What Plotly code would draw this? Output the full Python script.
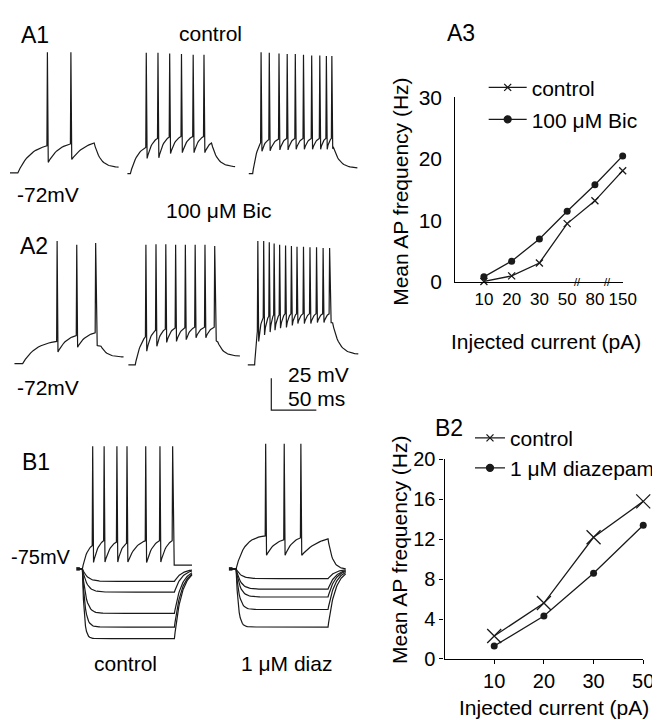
import numpy as np
import plotly.graph_objects as go

# ---------------- data ----------------
# A3: mean AP frequency vs injected current
currents_A3 = ["10", "20", "30", "50", "80", "150"]
freq_A3_control = [0.1, 1.0, 3.1, 9.5, 13.2, 18.1]
freq_A3_bic = [0.85, 3.4, 7.0, 11.5, 15.8, 20.5]
axis_breaks_A3 = [3.39, 4.45]          # "//" marks between 50-80 and 80-150

# B2: mean AP frequency vs injected current
currents_B2 = ["10", "20", "30", "50"]
freq_B2_control = [2.3, 5.6, 12.2, 15.8]
freq_B2_diazepam = [1.3, 4.3, 8.6, 13.4]

# Current-clamp traces (time in ms, membrane potential in mV)
# spiking traces: start, step on, step off, end, rest, spike times, pre-spike level,
# after-hyperpolarisation level, spike peak, level at step off, level at end, rise shape
A1_traces = [
    dict(t0=2.2, on=10.9, off=95.7, end=122.8, rest=-72,
         spikes=[43.5, 69.6], thr=[-50.8, -49.3], ahp=[-63.7, -61.4], peak=[22.5, 22.5],
         v_off=-48.5, v_end=-67.5, k=2.2),
    dict(t0=132.6, on=135.9, off=226.0, end=252.2, rest=-72.5,
         spikes=[153.3, 166.3, 179.3, 192.4, 205.4, 217.4],
         thr=[-52, -45, -44, -43.5, -43.5, -43.5],
         ahp=[-60.6, -60.1, -56.8, -56.1, -56.1, -56.1],
         peak=[22, 22, 21.5, 21, 20.5, 20.5], v_off=-48.5, v_end=-67, k=2.0),
    dict(t0=267.4, on=271.7, off=361.5, end=388.0, rest=-72.5,
         spikes=[280.8, 289.9, 300.7, 309.8, 318.8, 327.9, 337.0, 346.0, 353.3, 359.4],
         thr=[-48.5, -46, -45.5, -45, -45, -45, -45, -45, -45, -45],
         ahp=[-55, -54.6, -54, -54, -53.5, -53.5, -53.5, -53.5, -53.5, -53],
         peak=[22.5, 22, 21.5, 21, 21, 20.5, 20, 20, 19.5, 19.5],
         v_off=-52, v_end=-68, k=1.5),
]
A2_traces = [
    dict(t0=7.2, on=16.3, off=103.3, end=128.3, rest=-72,
         spikes=[54.3, 76.1, 97.1], thr=[-54.6, -50, -47.8], ahp=[-62.9, -59.1, -57.6],
         peak=[24, 21, 22.5], v_off=-58.4, v_end=-66.7, k=2.5),
    dict(t0=133.7, on=141.3, off=233.0, end=257.6, rest=-73,
         spikes=[152.9, 164.1, 175.0, 185.9, 196.7, 207.6, 218.5, 229.3],
         thr=[-51, -46, -45, -44, -44, -43.5, -43.5, -43.5],
         ahp=[-62.2, -58.4, -55.4, -54.6, -53.2, -51.7, -51.7, -53.2],
         peak=[21, 21.5, 21.5, 21, 21, 21, 21, 20], v_off=-55, v_end=-66, k=1.5),
    dict(t0=266.3, on=273.9, off=360.5, end=389.0, rest=-73,
         spikes=[277.2, 283.7, 289.9, 295.3, 301.4, 308.0, 314.5, 320.7, 327.9, 335.1, 342.4, 349.7, 356.9],
         thr=[-47, -36, -35, -34, -34, -33, -33, -33, -33, -33, -33, -33, -33],
         ahp=[-54.6, -49.5, -47.3, -45.8, -44.3, -43.6, -42.1, -40.6, -40.6, -40.6, -39.8, -39.8, -39.8],
         peak=[24, 24, 23, 22, 21, 20.5, 20, 19.5, 19.5, 19, 19, 18.5, 18.5],
         v_off=-40, v_end=-64.4, k=1.0),
]
B1_spiking = [
    dict(t0=78.3, on=82.6, off=184.8, end=204.3, rest=-75,
         spikes=[93.8, 106.5, 120.7, 131.9, 152.7, 168.5, 182.6],
         thr=[-56.8, -53, -54, -55, -53, -53, -53],
         ahp=[-70, -69.7, -69.7, -69.7, -70, -69.7, -72],
         peak=[21, 21, 21, 21, 21, 21, 21], v_off=-72, v_end=-72, k=2.0),
    dict(t0=247.8, on=253.3, off=355.4, end=375.0, rest=-75,
         spikes=[285.9, 306.5, 325.0], thr=[-49.2, -52.3, -50.8], ahp=[-64.4, -64.4, -64.4],
         peak=[23, 23, 23], v_off=-51.5, v_end=-75, k=3.5),
]
# hyperpolarising steps: steady-state levels (mV)
B1_ctrl_steps = dict(t0=78.3, on=82.6, off=184.8, end=204.3, rest=-75,
                     levels=[-84.8, -93.2, -109.8, -120.5, -129.5], tau=[5.5, 5, 4, 3, 2])
B1_diaz_steps = dict(t0=247.8, on=253.3, off=355.4, end=375.0, rest=-75,
                     levels=[-82.6, -90.9, -97.0, -106.8, -120.5], tau=[5.5, 5, 4.5, 3.5, 2.5])

# scale bar (A2): 25 mV, 50 ms
scale_t, scale_v = 292.4, -108.4
scale_mv, scale_ms = 25, 50

# ---------------- layout helpers ----------------
W, H = 660, 720
PX_PER_MS, PX_PER_MV = 0.92, 1.32
FONT = "Arial, Liberation Sans, sans-serif"
INK = "#1a1a1a"


def ydom(top, bottom):
    return [(H - bottom) / H, (H - top) / H]


def vrange(top, bottom, base_px, base_mv):
    return [base_mv - (bottom - base_px) / PX_PER_MV, base_mv + (base_px - top) / PX_PER_MV]


def seg(ta, va, tb, vb, k, n=14):
    f = np.linspace(0, 1, n)
    g = f if abs(k) < 1e-6 else (1 - np.exp(-k * f)) / (1 - np.exp(-k))
    return list(ta + (tb - ta) * f), list(va + (vb - va) * g)


def spiking(d):
    t, v = [d["t0"], d["on"]], [d["rest"], d["rest"]]
    s = d["spikes"]
    a, b = seg(d["on"], d["rest"], s[0] - 0.3, d["thr"][0], d["k"])
    t += a; v += b
    for i, ts in enumerate(s):
        t += [ts + 0.25, ts + 1.2]
        v += [d["peak"][i], d["ahp"][i]]
        if i + 1 < len(s):
            a, b = seg(ts + 1.2, d["ahp"][i], s[i + 1] - 0.3, d["thr"][i + 1], 2.0)
            t += a; v += b
    if d["off"] > s[-1] + 1.2:
        a, b = seg(s[-1] + 1.2, d["ahp"][-1], d["off"], d["v_off"], 1.5)
        t += a; v += b
    a, b = seg(d["off"], d["v_off"], d["end"], d["v_end"], 4.0, n=24)
    t += a; v += b
    return t, v


def steps(d):
    out = []
    for lev, tau in zip(d["levels"], d["tau"]):
        tt = np.linspace(d["on"], d["off"], 90)
        vv = d["rest"] + (lev - d["rest"]) * (1 - np.exp(-(tt - d["on"]) / tau))
        v_at_off = vv[-1]
        t2 = np.linspace(d["off"], d["end"], 30)
        v2 = d["rest"] + (v_at_off - d["rest"]) * np.exp(-(t2 - d["off"]) / 8.0)
        out.append(([d["t0"]] + list(tt) + list(t2), [d["rest"]] + list(vv) + list(v2)))
    return out


fig = go.Figure()
line_style = dict(color=INK, width=1.2)

for tr in A1_traces:
    t, v = spiking(tr)
    fig.add_trace(go.Scatter(x=t, y=v, mode="lines", line=line_style, xaxis="x3", yaxis="y3",
                             showlegend=False, hoverinfo="skip"))
for tr in A2_traces:
    t, v = spiking(tr)
    fig.add_trace(go.Scatter(x=t, y=v, mode="lines", line=line_style, xaxis="x4", yaxis="y4",
                             showlegend=False, hoverinfo="skip"))
for grp in (B1_ctrl_steps, B1_diaz_steps):
    for t, v in steps(grp):
        fig.add_trace(go.Scatter(x=t, y=v, mode="lines", line=line_style, xaxis="x5", yaxis="y5",
                                 showlegend=False, hoverinfo="skip"))
    fig.add_trace(go.Scatter(x=[grp["t0"] - 2.5, grp["t0"] + 1.5], y=[grp["rest"], grp["rest"]],
                             mode="lines", line=dict(color=INK, width=3.5), xaxis="x5", yaxis="y5",
                             showlegend=False, hoverinfo="skip"))
for tr in B1_spiking:
    t, v = spiking(tr)
    fig.add_trace(go.Scatter(x=t, y=v, mode="lines", line=line_style, xaxis="x5", yaxis="y5",
                             showlegend=False, hoverinfo="skip"))

# scale bar
fig.add_trace(go.Scatter(x=[scale_t, scale_t, scale_t + scale_ms],
                         y=[scale_v + scale_mv, scale_v, scale_v],
                         mode="lines", line=dict(color=INK, width=1.2), xaxis="x4", yaxis="y4",
                         showlegend=False, hoverinfo="skip"))

# ---------------- A3 ----------------
idxA = list(range(len(currents_A3)))
fig.add_trace(go.Scatter(x=idxA, y=freq_A3_control, mode="lines+markers",
                         line=dict(color=INK, width=1.3),
                         marker=dict(symbol="x-thin-open", size=7, color=INK, line=dict(width=1.3, color=INK)),
                         xaxis="x", yaxis="y", showlegend=False, cliponaxis=False))
fig.add_trace(go.Scatter(x=idxA, y=freq_A3_bic, mode="lines+markers",
                         line=dict(color=INK, width=1.3),
                         marker=dict(symbol="circle", size=7, color=INK),
                         xaxis="x", yaxis="y", showlegend=False, cliponaxis=False))
# ---------------- B2 ----------------
idxB = list(range(len(currents_B2)))
fig.add_trace(go.Scatter(x=idxB, y=freq_B2_control, mode="lines+markers",
                         line=dict(color=INK, width=1.3),
                         marker=dict(symbol="x-thin-open", size=14, color=INK, line=dict(width=1.3, color=INK)),
                         xaxis="x2", yaxis="y2", showlegend=False, cliponaxis=False))
fig.add_trace(go.Scatter(x=idxB, y=freq_B2_diazepam, mode="lines+markers",
                         line=dict(color=INK, width=1.3),
                         marker=dict(symbol="circle", size=7, color=INK),
                         xaxis="x2", yaxis="y2", showlegend=False, cliponaxis=False))

# legend entries (one legend per entry for exact placement)
leg_entries = [
    ("control", "x-thin-open", "legend", "x", "y"),
    ("100 μM Bic", "circle", "legend2", "x", "y"),
    ("control", "x-thin-open", "legend3", "x2", "y2"),
    ("1 μM diazepam", "circle", "legend4", "x2", "y2"),
]
for name, sym, lg, xa, ya in leg_entries:
    fig.add_trace(go.Scatter(x=[None], y=[None], mode="lines+markers", name=name,
                             line=dict(color=INK, width=1.3),
                             marker=dict(symbol=sym, size=7, color=INK, line=dict(width=1.3, color=INK)),
                             xaxis=xa, yaxis=ya, legend=lg, showlegend=True))

axis_font = dict(family=FONT, size=21, color="black")
hidden = dict(visible=False, showgrid=False, zeroline=False, fixedrange=True)
trace_xdom = [0, 360 / W]
trace_xrng = [0, 360 / PX_PER_MS]


def leg(xpx, ypx, iw=30):
    return dict(x=xpx / W, y=(H - ypx) / H, xanchor="left", yanchor="middle",
                font=dict(family=FONT, size=21, color="black"), bgcolor="rgba(0,0,0,0)",
                borderwidth=0, itemwidth=iw)


fig.update_layout(
    width=W, height=H, margin=dict(l=0, r=0, t=0, b=0),
    paper_bgcolor="white", plot_bgcolor="white", showlegend=True,
    font=dict(family=FONT, size=21, color="black"),
    legend=leg(486, 70, 38), legend2=leg(486, 103, 38),
    legend3=leg(472, 432), legend4=leg(472, 463),
    xaxis=dict(domain=[457 / W, 628 / W], range=[-1.03, 5.0], tickvals=idxA, ticktext=currents_A3,
               showline=True, linecolor="black", linewidth=1.2, ticks="", showgrid=False,
               zeroline=False, tickfont=dict(family=FONT, size=17, color="black"),
               ticklabelstandoff=1, fixedrange=True),
    yaxis=dict(domain=ydom(80, 270.7), range=[0, 30], tickvals=[0, 10, 20, 30],
               showline=True, linecolor="black", linewidth=1.2, ticks="", showgrid=False,
               zeroline=False, tickfont=axis_font, ticklabelstandoff=8, fixedrange=True),
    xaxis2=dict(domain=[446 / W, 649 / W], range=[-1.0, 3.0], tickvals=idxB, ticktext=currents_B2,
                showline=True, linecolor="black", linewidth=1.2, ticks="outside", ticklen=4,
                tickcolor="black", tickwidth=1.2, showgrid=False, zeroline=False,
                tickfont=dict(family=FONT, size=20, color="black"), fixedrange=True, anchor="y2"),
    yaxis2=dict(domain=ydom(454, 660), range=[0, 20], tickvals=[0, 4, 8, 12, 16, 20],
                showline=True, linecolor="black", linewidth=1.2, ticks="outside", ticklen=4,
                tickcolor="black", tickwidth=1.2, showgrid=False, zeroline=False,
                tickfont=dict(family=FONT, size=20, color="black"), fixedrange=True, anchor="x2"),
    xaxis3=dict(domain=trace_xdom, range=trace_xrng, anchor="y3", **hidden),
    yaxis3=dict(domain=ydom(20, 170), range=vrange(20, 170, 158, -72), anchor="x3", **hidden),
    xaxis4=dict(domain=trace_xdom, range=trace_xrng, anchor="y4", **hidden),
    yaxis4=dict(domain=ydom(215, 410), range=vrange(215, 410, 355, -72), anchor="x4", **hidden),
    xaxis5=dict(domain=trace_xdom, range=trace_xrng, anchor="y5", **hidden),
    yaxis5=dict(domain=ydom(425, 655), range=vrange(425, 655, 567, -75), anchor="x5", **hidden),
)


def txt(s, xpx, ypx, size=21, xanchor="center", angle=0):
    fig.add_annotation(text=s, x=xpx / W, y=(H - ypx) / H, xref="paper", yref="paper",
                       xanchor=xanchor, yanchor="middle", showarrow=False, textangle=angle,
                       font=dict(family=FONT, size=size, color="black"))


txt("A1", 11, 15, 23, "left")
txt("control", 207, 14)
txt("-72mV", 7, 180, 21, "left")
txt("100 μM Bic", 215, 197)
txt("A2", 10, 233, 23, "left")
txt("-72mV", 7, 380, 21, "left")
txt("25 mV", 284, 366, 21, "left")
txt("50 ms", 284, 391, 21, "left")
txt("B1", 12, 457, 23, "left")
txt("-75mV", 1, 555, 20, "left")
txt("control", 120, 665)
txt("1 μM diaz", 285, 665)
txt("A3", 463, 13, 23)
txt("B2", 451, 421, 23)
txt("Mean AP frequency (Hz)", 401, 177, 21, angle=-90)
txt("Injected current (pA)", 550, 332)
txt("Mean AP frequency (Hz)", 400, 548, 21, angle=-90)
txt("Injected current (pA)", 657, 710, 21, "right")

for b in axis_breaks_A3:
    fig.add_annotation(text="//", x=b, y=0, xref="x", yref="y", showarrow=False,
                       xanchor="center", yanchor="middle",
                       font=dict(family=FONT, size=11, color="black"))

fig.write_html("out.html")
